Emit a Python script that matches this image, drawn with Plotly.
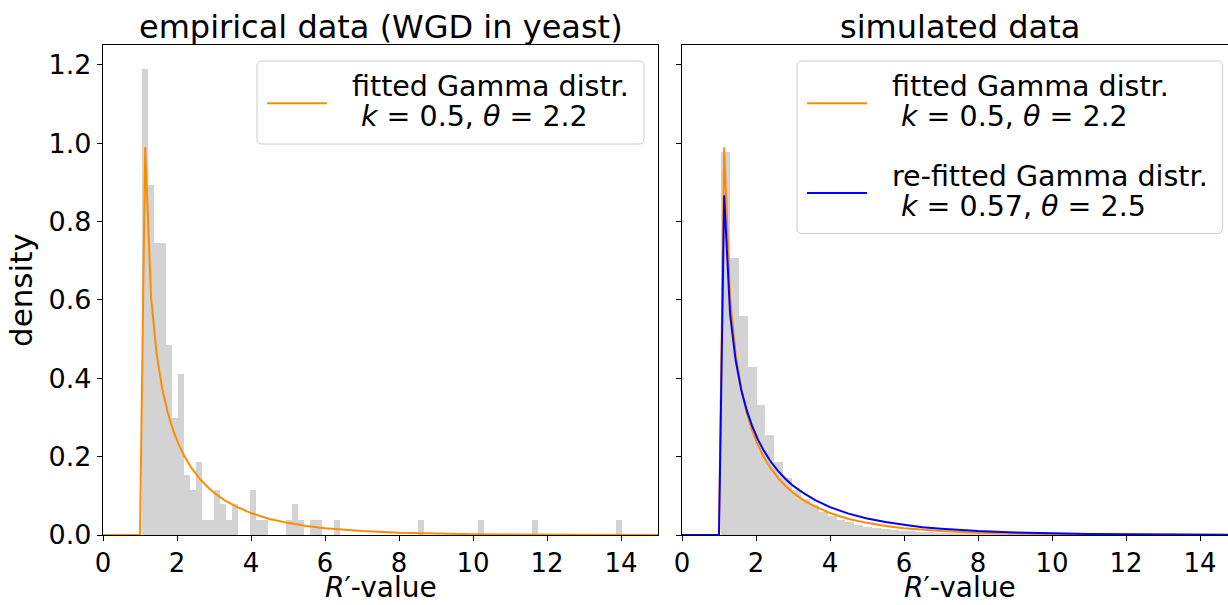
import plotly.graph_objects as go

W, H = 1228, 605

# ---------------- data ----------------
# empirical histogram (density), 80 equal bins
emp_bin_start = 1.054
emp_bin_width = 0.162
emp_density = [
    1.19, 0.892, 0.744, 0.744, 0.485, 0.298, 0.41, 0.151, 0.113, 0.186,
    0.038, 0.038, 0.113, 0.077, 0.038, 0.077, 0, 0, 0.113, 0.038,
    0.038, 0, 0, 0, 0.038, 0.077, 0.038, 0, 0.038, 0.038,
    0, 0, 0.038, 0, 0, 0, 0, 0, 0, 0,
    0, 0, 0, 0, 0, 0, 0.038, 0, 0, 0,
    0, 0, 0, 0, 0, 0, 0.038, 0, 0, 0,
    0, 0, 0, 0, 0, 0.038, 0, 0, 0, 0,
    0, 0, 0, 0, 0, 0, 0, 0, 0, 0.038,
]

# simulated histogram (density)
sim_bin_start = 1.056
sim_bin_width = 0.24
sim_density = [
    0.977, 0.706, 0.558, 0.427, 0.331, 0.255, 0.186, 0.145, 0.115, 0.092,
    0.075, 0.058, 0.048, 0.037, 0.031, 0.025, 0.019, 0.017, 0.014, 0.012,
    0.010, 0.0085, 0.007, 0.006, 0.005, 0.0045, 0.0038, 0.0032, 0.0027, 0.0023,
    0.002, 0.0017, 0.0014, 0.0012, 0.001, 0.0008, 0.0007, 0.0006, 0.0005, 0.0004,
]

# fitted curves
curve_x = [0, 1.0, 1.14, 1.3, 1.45, 1.6, 1.75, 1.9, 2.05, 2.2, 2.4, 2.6, 2.8, 3.0,
           3.3, 3.6, 4.0, 4.5, 5.0, 5.5, 6.0, 6.5, 7.0, 8.0, 9.0, 10.0, 11.0,
           12.0, 13.0, 14.0, 15.0]
fit_y = [0, 0, 0.99, 0.606, 0.462, 0.374, 0.312, 0.266, 0.230, 0.201, 0.170,
         0.145, 0.125, 0.108, 0.088, 0.0725, 0.056, 0.041, 0.031, 0.023, 0.0175,
         0.0133, 0.0102, 0.006, 0.0036, 0.0021, 0.0013, 0.0008, 0.0005, 0.0003,
         0.0002]
refit_y = [0, 0, 0.867, 0.564, 0.446, 0.371, 0.318, 0.277, 0.244, 0.217, 0.187,
           0.163, 0.143, 0.126, 0.106, 0.089, 0.071, 0.0545, 0.042, 0.033, 0.026,
           0.020, 0.016, 0.010, 0.0063, 0.004, 0.0026, 0.0017, 0.0011, 0.0007,
           0.00045]

titles = ["empirical data (WGD in yeast)", "simulated data"]
x_title = "<i>R</i>′-value"
y_title = "density"
fit_label = ["fitted Gamma distr.", "<i>k</i> = 0.5, <i>θ</i> = 2.2"]
refit_label = ["re-fitted Gamma distr.", "<i>k</i> = 0.57, <i>θ</i> = 2.5"]
y_ticks = [0, 0.2, 0.4, 0.6, 0.8, 1.0, 1.2]
x_ticks = [0, 2, 4, 6, 8, 10, 12, 14]

# ---------------- styles ----------------
FONT = "DejaVu Sans"
ORANGE = "#ff8c00"
BLUE = "#0000ff"
GRAY = "#d3d3d3"

def px(x):
    return x / W

def py(y):
    return 1 - y / H

# plot areas in pixels
L_X0, L_X1 = 103, 658
R_X0 = 682
PX_PER_UNIT = (L_X1 - L_X0) / 15.0
Y_TOP, Y_BOT = 45.4, 535

emp_centers = [emp_bin_start + emp_bin_width * (i + 0.5) for i in range(len(emp_density))]
sim_centers = [sim_bin_start + sim_bin_width * (i + 0.5) for i in range(len(sim_density))]

fig = go.Figure()
fig.add_trace(go.Bar(x=emp_centers, y=emp_density, width=emp_bin_width,
                     marker=dict(color=GRAY, line=dict(width=0)),
                     xaxis="x", yaxis="y", showlegend=False))
fig.add_trace(go.Scatter(x=curve_x, y=fit_y, mode="lines",
                         line=dict(color=ORANGE, width=2),
                         xaxis="x", yaxis="y", showlegend=False))
fig.add_trace(go.Bar(x=sim_centers, y=sim_density, width=sim_bin_width,
                     marker=dict(color=GRAY, line=dict(width=0)),
                     xaxis="x2", yaxis="y2", showlegend=False))
fig.add_trace(go.Scatter(x=curve_x, y=fit_y, mode="lines",
                         line=dict(color=ORANGE, width=2),
                         xaxis="x2", yaxis="y2", showlegend=False))
fig.add_trace(go.Scatter(x=curve_x, y=refit_y, mode="lines",
                         line=dict(color=BLUE, width=2),
                         xaxis="x2", yaxis="y2", showlegend=False))

axis_common = dict(
    ticks="outside", ticklen=5, tickwidth=1.1, tickcolor="black",
    showline=True, linecolor="black", linewidth=1.1,
    showgrid=False, zeroline=False, automargin=False,
)
x_tickfont = dict(family=FONT, size=26, color="black")
y_tickfont = dict(family=FONT, size=27, color="black")

x_right_end = (W - R_X0) / PX_PER_UNIT

fig.update_layout(
    width=W, height=H,
    margin=dict(l=0, r=0, t=0, b=0),
    paper_bgcolor="white", plot_bgcolor="white",
    barmode="overlay", bargap=0,
    showlegend=False,
    font=dict(family=FONT, color="black"),
    xaxis=dict(domain=[px(L_X0), px(L_X1)], range=[0, 15], mirror=True,
               tickvals=x_ticks, anchor="y", tickfont=x_tickfont, **axis_common),
    yaxis=dict(domain=[py(Y_BOT), py(Y_TOP)], range=[0, 1.25], mirror=True,
               tickvals=y_ticks, tickformat=".1f", anchor="x", tickfont=y_tickfont,
               title=dict(text=y_title, font=dict(size=31), standoff=6),
               **axis_common),
    xaxis2=dict(domain=[px(R_X0), 1.0], range=[0, x_right_end], mirror=True,
                tickvals=x_ticks, anchor="y2", tickfont=x_tickfont, **axis_common),
    yaxis2=dict(domain=[py(Y_BOT), py(Y_TOP)], range=[0, 1.25], mirror=False,
                tickvals=y_ticks, showticklabels=False, anchor="x2",
                matches="y", tickfont=y_tickfont, **axis_common),
)

annotations = []

def text_ann(text, x, y, size, xanchor="center", yanchor="middle"):
    annotations.append(dict(text=text, x=px(x), y=py(y),
                            xref="paper", yref="paper", showarrow=False,
                            xanchor=xanchor, yanchor=yanchor, borderpad=0,
                            font=dict(family=FONT, size=size, color="black")))

# subplot titles
text_ann(titles[0], (L_X0 + L_X1) / 2, 27, 32)
text_ann(titles[1], R_X0 + 15 * PX_PER_UNIT / 2, 27, 32)
# x-axis titles
text_ann(x_title, (L_X0 + L_X1) / 2, 605, 28, yanchor="bottom")
text_ann(x_title, R_X0 + 15 * PX_PER_UNIT / 2, 605, 28, yanchor="bottom")

shapes = []

def rounded_box(x0, y0, x1, y1, r=5):
    # pixel coords -> paper path with rounded corners
    def P(x, y):
        return f"{px(x):.5f},{py(y):.5f}"
    return (f"M {P(x0 + r, y0)} L {P(x1 - r, y0)} Q {P(x1, y0)} {P(x1, y0 + r)} "
            f"L {P(x1, y1 - r)} Q {P(x1, y1)} {P(x1 - r, y1)} "
            f"L {P(x0 + r, y1)} Q {P(x0, y1)} {P(x0, y1 - r)} "
            f"L {P(x0, y0 + r)} Q {P(x0, y0)} {P(x0 + r, y0)} Z")

def legend_entry(line_x0, line_y, text_x, lines, color):
    shapes.append(dict(type="line", xref="paper", yref="paper",
                       x0=px(line_x0), x1=px(line_x0 + 60), y0=py(line_y), y1=py(line_y),
                       line=dict(color=color, width=2)))
    text_ann(lines[0], text_x, line_y - 16.5, 28.5, xanchor="left")
    text_ann(lines[1], text_x + 9, line_y + 13.5, 28.5, xanchor="left")

# left legend
shapes.append(dict(type="path", xref="paper", yref="paper",
                   path=rounded_box(257, 61, 644, 144),
                   fillcolor="rgba(255,255,255,0.8)", line=dict(color="#cccccc", width=1)))
legend_entry(267, 103.3, 350.5, fit_label, ORANGE)

# right legend
shapes.append(dict(type="path", xref="paper", yref="paper",
                   path=rounded_box(797, 61, 1222.5, 233.5),
                   fillcolor="rgba(255,255,255,0.8)", line=dict(color="#cccccc", width=1)))
legend_entry(807, 103.3, 890.5, fit_label, ORANGE)
legend_entry(807, 193, 890.5, refit_label, BLUE)

fig.update_layout(annotations=annotations, shapes=shapes)

fig.write_html("out.html")
